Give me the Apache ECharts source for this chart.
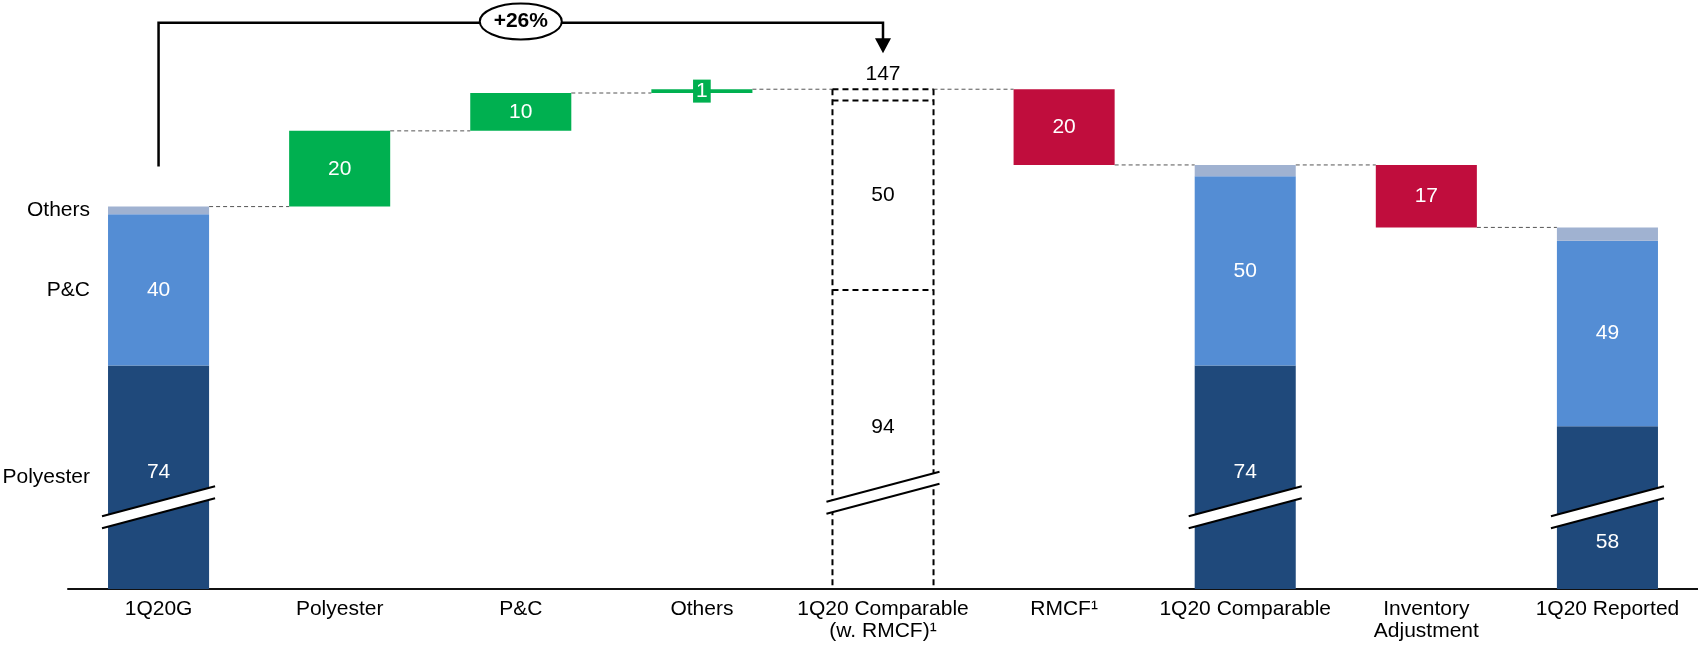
<!DOCTYPE html>
<html>
<head>
<meta charset="utf-8">
<script src="https://cdn.jsdelivr.net/npm/echarts@6/dist/echarts.min.js"></script>
<style>
html,body{margin:0;padding:0;background:#fff;}
#chart{width:1698px;height:648px;}
</style>
</head>
<body>
<div id="chart"></div>
<script>
// ---- data ----
const categories = ['1Q20G', 'Polyester', 'P&C', 'Others', '1Q20 Comparable\n(w. RMCF)¹', 'RMCF¹', '1Q20 Comparable', 'Inventory\nAdjustment', '1Q20 Reported'];
const polyester = [74, null, null, null, 94, null, 74, null, 58];
const pc        = [40, null, null, null, 50, null, 50, null, 49];
const others    = [2,  null, null, null, 3,  null, 3,  null, 3.5];
const increases = [null, 20, 10, 1, null, null, null, null, null];
const decreases = [null, null, null, null, null, 20, null, 16.5, null];
const segmentNames = ['Polyester', 'P&C', 'Others'];
const hollowIndex = 4;            // "1Q20 Comparable (w. RMCF)" drawn as dashed outline
const breakMarks = [[0, 36.6], [4, 40.4], [6, 36.6], [8, 36.6]];
const growthLabel = '+26%';
const growthFrom = 0, growthTo = 4;
const yMin = 15, yMax = 160;

// ---- derived ----
const n = categories.length;
const totals = categories.map((_, i) => polyester[i] == null ? null : polyester[i] + pc[i] + others[i]);
const base = [];
const connectors = [];
let level = 0;
for (let i = 0; i < n; i++) {
  if (totals[i] != null) { level = totals[i]; base.push('-'); }
  else if (increases[i] != null) { base.push(level); level += increases[i]; }
  else if (decreases[i] != null) { level -= decreases[i]; base.push(level); }
  else base.push('-');
  if (i < n - 1) connectors.push([i, level]);
}

const FONT = "'Liberation Sans', Arial, sans-serif";
const BAR_RATIO = 0.558;
const C_POLY = '#1F497B', C_PC = '#548DD4', C_OTH = '#A0B2D1', C_UP = '#00B050', C_DN = '#C00D3D';

const hollowStyle = { color: 'rgba(0,0,0,0)', borderWidth: 0 };
const polyOffsets = { 0: [0, -5], 4: [0, -12], 6: [0, -5], 8: [0, 35] };

function segData(arr, color, showLabel, offsets) {
  return arr.map((v, i) => {
    if (v == null) return '-';
    const item = { value: v };
    if (i === hollowIndex) {
      item.itemStyle = hollowStyle;
      item.label = { show: showLabel, color: '#000' };
    } else {
      item.label = { show: showLabel, color: '#fff' };
    }
    if (offsets && offsets[i]) item.label.offset = offsets[i];
    return item;
  });
}

const barCommon = {
  type: 'bar', stack: 'wf', barWidth: (BAR_RATIO * 100) + '%', clip: true,
  label: { position: 'inside', fontSize: 21, fontFamily: FONT, formatter: p => Math.round(p.value) }
};

// left-side segment names for the first column
const nameMarks = [
  [0, (yMin + polyester[0]) / 2],
  [0, polyester[0] + pc[0] / 2],
  [0, polyester[0] + pc[0] + others[0] / 2]
];

const hollowOutline = [[hollowIndex, yMin, polyester[hollowIndex], polyester[hollowIndex] + pc[hollowIndex], totals[hollowIndex]]];

const option = {
  animation: false,
  textStyle: { fontFamily: FONT },
  grid: { left: 68, right: 0, top: 40, bottom: 59 },
  xAxis: {
    type: 'category', data: categories,
    axisTick: { show: false },
    axisLine: { lineStyle: { color: '#111', width: 2 } },
    axisLabel: { interval: 0, fontSize: 21, color: '#000', lineHeight: 22, margin: 9, fontFamily: FONT }
  },
  yAxis: { type: 'value', min: yMin, max: yMax, show: false, splitLine: { show: false } },
  series: [
    {
      type: 'custom', name: 'connectors', z: 1, silent: true,
      data: connectors,
      renderItem: (params, api) => {
        const i = api.value(0), v = api.value(1);
        const a = api.coord([i, v]), b = api.coord([i + 1, v]);
        const hw = api.size([1, 0])[0] * BAR_RATIO / 2;
        return { type: 'line', shape: { x1: a[0] + hw, y1: a[1], x2: b[0] - hw, y2: b[1] },
          style: { stroke: '#555', lineWidth: 1, lineDash: [4, 3] } };
      }
    },
    Object.assign({}, barCommon, { name: 'base', data: base, itemStyle: { color: 'rgba(0,0,0,0)' }, label: { show: false }, z: 2 }),
    Object.assign({}, barCommon, { name: 'Polyester', data: segData(polyester, C_POLY, true, polyOffsets), itemStyle: { color: C_POLY }, z: 2 }),
    Object.assign({}, barCommon, { name: 'P&C', data: segData(pc, C_PC, true), itemStyle: { color: C_PC }, z: 2 }),
    Object.assign({}, barCommon, {
      name: 'Others', data: segData(others, C_OTH, true), itemStyle: { color: C_OTH }, z: 2,
      label: { show: true, position: 'top', distance: 5, fontSize: 21, fontFamily: FONT, color: '#000',
        formatter: p => Math.round(totals[p.dataIndex]) }
    }),
    Object.assign({}, barCommon, {
      name: 'Increase', itemStyle: { color: C_UP }, z: 2,
      data: increases.map((v, i) => v == null ? '-' : (v < 2
        ? { value: v, label: { show: true, color: '#fff', backgroundColor: C_UP, padding: [1, 3] } }
        : { value: v, label: { show: true, color: '#fff' } }))
    }),
    Object.assign({}, barCommon, {
      name: 'Decrease', itemStyle: { color: C_DN }, z: 2,
      data: decreases.map(v => v == null ? '-' : { value: v, label: { show: true, color: '#fff' } })
    }),
    {
      type: 'custom', name: 'hollowOutline', z: 3, silent: true,
      data: hollowOutline,
      renderItem: (params, api) => {
        const i = api.value(0);
        const hw = api.size([1, 0])[0] * BAR_RATIO / 2;
        const yb = api.coord([i, api.value(1)]);
        const y1 = api.coord([i, api.value(2)]);
        const y2 = api.coord([i, api.value(3)]);
        const y3 = api.coord([i, api.value(4)]);
        const xl = yb[0] - hw, xr = yb[0] + hw;
        const st = { stroke: '#000', lineWidth: 2, lineDash: [6, 4] };
        return { type: 'group', children: [
          { type: 'line', shape: { x1: xl, y1: y3[1], x2: xr, y2: y3[1] }, style: st },
          { type: 'line', shape: { x1: xl, y1: y2[1], x2: xr, y2: y2[1] }, style: st },
          { type: 'line', shape: { x1: xl, y1: y1[1], x2: xr, y2: y1[1] }, style: st },
          { type: 'line', shape: { x1: xl, y1: y3[1], x2: xl, y2: yb[1] }, style: st },
          { type: 'line', shape: { x1: xr, y1: y3[1], x2: xr, y2: yb[1] }, style: st }
        ] };
      }
    },
    {
      type: 'custom', name: 'breaks', z: 5, silent: true,
      data: breakMarks,
      renderItem: (params, api) => {
        const c = api.coord([api.value(0), api.value(1)]);
        const w = api.size([1, 0])[0] * BAR_RATIO + 12;
        const dy = 15, gap = 6;
        const x0 = c[0] - w / 2, x1 = c[0] + w / 2;
        return { type: 'group', children: [
          { type: 'polygon', shape: { points: [[x0, c[1] + dy - gap], [x1, c[1] - dy - gap], [x1, c[1] - dy + gap], [x0, c[1] + dy + gap]] }, style: { fill: '#fff' } },
          { type: 'line', shape: { x1: x0, y1: c[1] + dy - gap, x2: x1, y2: c[1] - dy - gap }, style: { stroke: '#000', lineWidth: 2 } },
          { type: 'line', shape: { x1: x0, y1: c[1] + dy + gap, x2: x1, y2: c[1] - dy + gap }, style: { stroke: '#000', lineWidth: 2 } }
        ] };
      }
    },
    {
      type: 'custom', name: 'segmentNames', z: 5, silent: true,
      data: nameMarks,
      renderItem: (params, api) => {
        const c = api.coord([api.value(0), api.value(1)]);
        const hw = api.size([1, 0])[0] * BAR_RATIO / 2;
        return { type: 'text', x: c[0] - hw - 18, y: c[1],
          style: { text: segmentNames[params.dataIndex], fontSize: 21, fontFamily: FONT, fill: '#000', align: 'right', verticalAlign: 'middle' } };
      }
    },
    {
      type: 'custom', name: 'growth', z: 6, silent: true,
      data: [[growthFrom, totals[growthFrom], growthTo, totals[growthTo]]],
      renderItem: (params, api) => {
        const a = api.coord([api.value(0), api.value(1)]);
        const b = api.coord([api.value(2), api.value(3)]);
        const topY = 22.7;
        const leftBottom = a[1] - 40;
        const tip = b[1] - 36;
        const midX = (a[0] + b[0]) / 2;
        return { type: 'group', children: [
          { type: 'polyline', shape: { points: [[a[0], leftBottom], [a[0], topY], [b[0], topY], [b[0], tip - 14]] },
            style: { stroke: '#000', lineWidth: 2.5, fill: null } },
          { type: 'polygon', shape: { points: [[b[0] - 8, tip - 15], [b[0] + 8, tip - 15], [b[0], tip]] }, style: { fill: '#000' } },
          { type: 'ellipse', shape: { cx: midX, cy: 21.5, rx: 41, ry: 18 }, style: { fill: '#fff', stroke: '#000', lineWidth: 2 } },
          { type: 'text', x: midX, y: 21.5, style: { text: growthLabel, fontSize: 21, fontWeight: 'bold', fontFamily: FONT, fill: '#000', align: 'center', verticalAlign: 'middle' } }
        ] };
      }
    }
  ]
};

const chart = echarts.init(document.getElementById('chart'), null, { renderer: 'canvas' });
chart.setOption(option);
</script>
</body>
</html>
